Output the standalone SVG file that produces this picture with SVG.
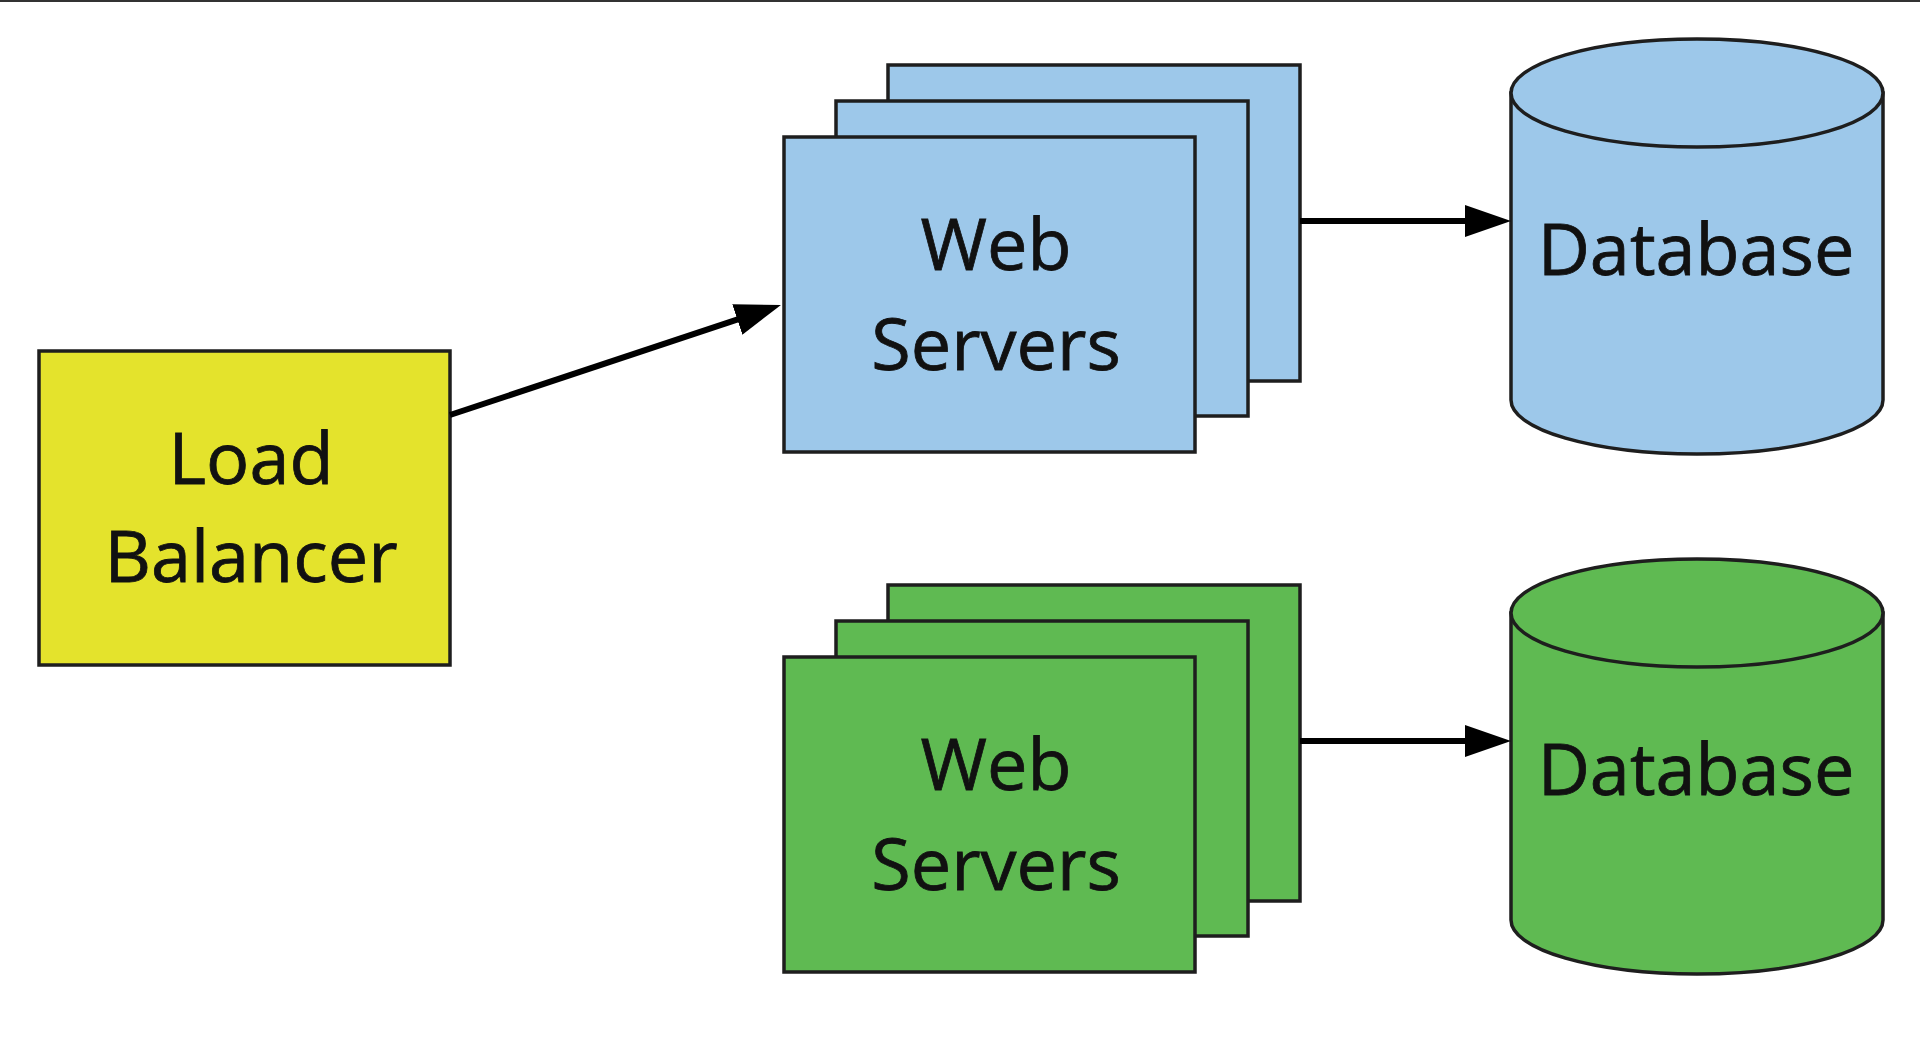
<svg xmlns="http://www.w3.org/2000/svg" width="1920" height="1051" viewBox="0 0 1920 1051">
  <style>
    .lbl { font-family: "Open Sans", "Noto Sans", "DejaVu Sans", sans-serif; font-size: 72px; fill: #111; stroke: #111; stroke-width: 0.8; text-anchor: middle; }
    .box { stroke: #1e1e1e; stroke-width: 3.5; }
    .blue { fill: #9dc8ea; }
    .green { fill: #5fba52; }
    .yellow { fill: #e4e32c; }
    .conn { stroke: #000; stroke-width: 6; fill: none; marker-end: url(#arrow); }
  </style>
  <defs>
    <marker id="arrow" markerUnits="userSpaceOnUse" markerWidth="46" markerHeight="32" refX="6" refY="16" orient="auto">
      <path d="M0,0 L46,16 L0,32 Z" fill="#000"/>
    </marker>
  </defs>
  <rect x="0" y="0" width="1920" height="1051" fill="#ffffff"/>
  <line x1="0" y1="1" x2="1920" y2="1" stroke="#333" stroke-width="2"/>

  <g id="load-balancer">
    <rect class="box yellow" x="39" y="351" width="411" height="314"/>
    <text class="lbl" x="251" y="484">Load</text>
    <text class="lbl" x="251" y="582">Balancer</text>
  </g>

  <g id="web-servers-blue">
    <rect class="box blue" x="888" y="65" width="412" height="316"/>
    <rect class="box blue" x="836" y="101" width="412" height="315"/>
    <rect class="box blue" x="784" y="137" width="411" height="315"/>
    <text class="lbl" x="996" y="270">Web</text>
    <text class="lbl" x="996" y="370">Servers</text>
  </g>

  <g id="database-blue">
    <path class="box blue" d="M1511,93 L1511,400 A186,54 0 0 0 1883,400 L1883,93 Z"/>
    <ellipse class="box blue" cx="1697" cy="93" rx="186" ry="54"/>
    <text class="lbl" x="1696" y="275">Database</text>
  </g>

  <g id="web-servers-green">
    <rect class="box green" x="888" y="585" width="412" height="316"/>
    <rect class="box green" x="836" y="621" width="412" height="315"/>
    <rect class="box green" x="784" y="657" width="411" height="315"/>
    <text class="lbl" x="996" y="790">Web</text>
    <text class="lbl" x="996" y="890">Servers</text>
  </g>

  <g id="database-green">
    <path class="box green" d="M1511,613 L1511,920 A186,54 0 0 0 1883,920 L1883,613 Z"/>
    <ellipse class="box green" cx="1697" cy="613" rx="186" ry="54"/>
    <text class="lbl" x="1696" y="795">Database</text>
  </g>

  <g id="connectors">
    <line class="conn" x1="450" y1="415" x2="743" y2="317.6"/>
    <line class="conn" x1="1300" y1="221" x2="1471" y2="221"/>
    <line class="conn" x1="1300" y1="741" x2="1471" y2="741"/>
  </g>
</svg>
